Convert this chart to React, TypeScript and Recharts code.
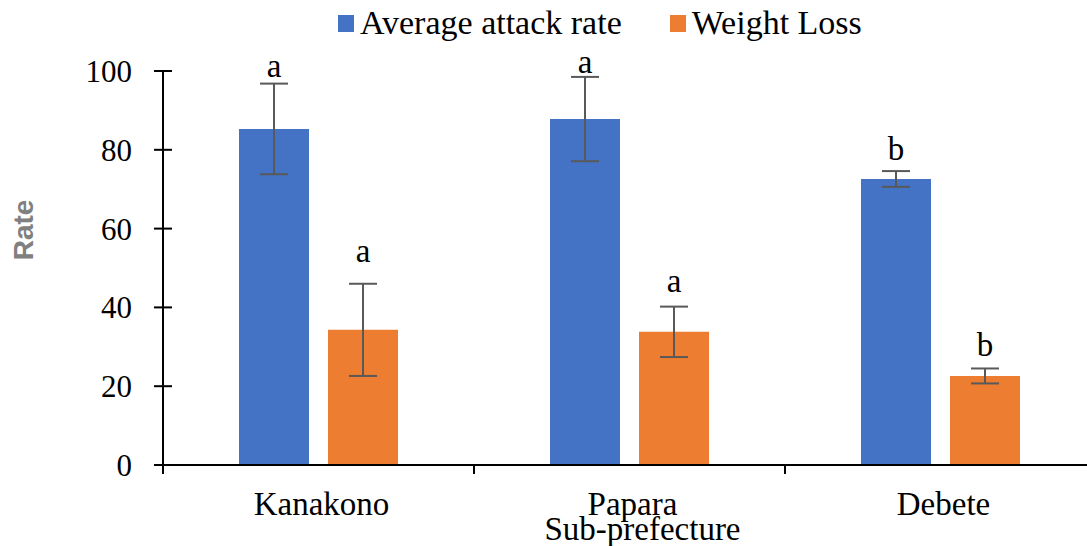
import React from 'react';
import { BarChart, Bar, XAxis, YAxis, ErrorBar, LabelList, Legend, Label } from 'recharts';

const categories = ['Kanakono', 'Papara', 'Debete'];
const attackRate = [85.3, 87.8, 72.6];
const attackErr = [11.5, 10.7, 2.0];
const attackLetters = ['a', 'a', 'b'];
const weightLoss = [34.3, 33.8, 22.6];
const weightErr = [11.7, 6.4, 1.9];
const weightLetters = ['a', 'a', 'b'];
const yTicks = [0, 20, 40, 60, 80, 100];

// px between the error bar cap and the letter baseline
const attackGap = [7, 4, 11];
const weightGap = [22, 15, 12];

const CHART_W = 1110;
const CHART_H = 546;
const PLOT_LEFT = 163;
const PLOT_RIGHT = 1096;
const BAND = (PLOT_RIGHT - PLOT_LEFT) / categories.length;
const SERIF = 'Liberation Serif, Times New Roman, serif';

const data = categories.map((name, i) => ({
  name,
  attack: attackRate[i],
  attackErr: attackErr[i],
  attackLetter: attackLetters[i],
  weight: weightLoss[i],
  weightErr: weightErr[i],
  weightLetter: weightLetters[i],
}));

const serifText = (size: number) => ({ fontFamily: SERIF, fontSize: size });

function YTick(props: any) {
  const { x, y, payload } = props;
  return (
    <g>
      <line x1={x - 9} x2={x + 9} y1={y} y2={y} stroke="#000" strokeWidth={2} />
      <text x={x - 31} y={y + 11} textAnchor="end" style={serifText(31)} fill="#000">
        {payload.value}
      </text>
    </g>
  );
}

function XTick(props: any) {
  const { x, y, payload, index } = props;
  const last = index === categories.length - 1;
  return (
    <g>
      <line x1={x - BAND / 2} x2={x - BAND / 2} y1={y} y2={y + 9} stroke="#000" strokeWidth={2} />
      {last && <line x1={x + BAND / 2} x2={x + BAND / 2} y1={y} y2={y + 9} stroke="#000" strokeWidth={2} />}
      <text x={x + 3} y={y + 50} textAnchor="middle" style={serifText(33)} fill="#000">
        {payload.value}
      </text>
    </g>
  );
}

function letterLabel(values: number[], errs: number[], gaps: number[]) {
  return (props: any) => {
    const { x, y, width, height, value, index } = props;
    const errPx = (height / values[index]) * errs[index];
    return (
      <text x={x + width / 2} y={y - errPx - gaps[index]} textAnchor="middle" style={serifText(33)} fill="#000">
        {value}
      </text>
    );
  };
}

function LegendContent(props: any) {
  const { payload = [] } = props;
  return (
    <div style={{ display: 'flex', alignItems: 'center', fontFamily: SERIF, fontSize: 34, lineHeight: '38px', color: '#000' }}>
      {payload.map((entry: any, i: number) => (
        <div key={i} style={{ display: 'flex', alignItems: 'center', marginRight: i === 0 ? 48 : 0 }}>
          <span style={{ display: 'inline-block', width: 16, height: 17, background: entry.color, marginRight: 6 }} />
          <span style={{ whiteSpace: 'nowrap' }}>{entry.value}</span>
        </div>
      ))}
    </div>
  );
}

export default function App() {
  return (
    <div style={{ position: 'absolute', left: 0, top: 0, width: 1087, height: 546, overflow: 'hidden', background: '#fff', fontFamily: SERIF }}>
      <BarChart
        width={CHART_W}
        height={CHART_H}
        data={data}
        margin={{ top: 71, right: CHART_W - PLOT_RIGHT, bottom: 0, left: 0 }}
        barCategoryGap={76}
        barGap={19}
      >
        <XAxis
          dataKey="name"
          height={81}
          tick={<XTick />}
          tickLine={false}
          tickSize={0}
          tickMargin={0}
          axisLine={{ stroke: '#000', strokeWidth: 2 }}
          interval={0}
        >
          <Label
            content={(p: any) => {
              const vb = p.viewBox;
              return (
                <text x={vb.x + vb.width / 2 + 13} y={vb.y + 75} textAnchor="middle" style={serifText(33)} fill="#000">
                  Sub-prefecture
                </text>
              );
            }}
          />
        </XAxis>
        <YAxis
          width={PLOT_LEFT}
          domain={[0, 100]}
          ticks={yTicks}
          tick={<YTick />}
          tickLine={false}
          tickSize={0}
          tickMargin={0}
          axisLine={{ stroke: '#000', strokeWidth: 2 }}
        >
          <Label
            content={(p: any) => {
              const vb = p.viewBox;
              const cx = vb.x + 23;
              const cy = vb.y + vb.height / 2 - 38;
              return (
                <text
                  x={cx}
                  y={cy}
                  transform={`rotate(-90 ${cx} ${cy})`}
                  textAnchor="middle"
                  dominantBaseline="central"
                  style={{ fontFamily: 'Liberation Sans, Arial, sans-serif', fontSize: 28, fontWeight: 'bold' }}
                  fill="#808080"
                >
                  Rate
                </text>
              );
            }}
          />
        </YAxis>
        <Legend
          verticalAlign="middle"
          align="center"
          content={<LegendContent />}
          wrapperStyle={{ position: 'absolute', top: 4, left: 338, width: 'auto' }}
        />
        <Bar dataKey="attack" name="Average attack rate" fill="#4472C4" isAnimationActive={false}>
          <ErrorBar dataKey="attackErr" width={14} stroke="#595959" strokeWidth={2} direction="y" isAnimationActive={false} />
          <LabelList dataKey="attackLetter" content={letterLabel(attackRate, attackErr, attackGap)} />
        </Bar>
        <Bar dataKey="weight" name="Weight Loss" fill="#ED7D31" isAnimationActive={false}>
          <ErrorBar dataKey="weightErr" width={14} stroke="#595959" strokeWidth={2} direction="y" isAnimationActive={false} />
          <LabelList dataKey="weightLetter" content={letterLabel(weightLoss, weightErr, weightGap)} />
        </Bar>
      </BarChart>
    </div>
  );
}
